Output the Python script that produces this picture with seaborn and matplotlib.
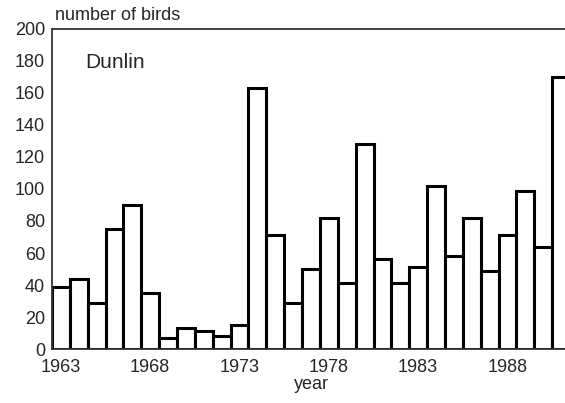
import numpy as np
import pandas as pd
import matplotlib
matplotlib.use("Agg")
import matplotlib.pyplot as plt
import seaborn as sns

# Dunlin counts per year
years = list(range(1963, 1992))
birds = [39, 44, 29, 75, 90, 35, 7, 13, 11, 8, 15, 163, 71, 29, 50,
         82, 41, 128, 56, 41, 51, 102, 58, 82, 49, 71, 99, 64, 170]
year_labels = ["1963", "1968", "1973", "1978", "1983", "1988"]
y_ticks = list(range(0, 201, 20))

df = pd.DataFrame({"year": years, "birds": birds})

sns.set_style("white")
plt.rcParams["font.family"] = ["Liberation Sans", "DejaVu Sans"]

fig = plt.figure(figsize=(5.65, 4.03), dpi=100)
# axes run slightly past the right edge, as in the cropped original
ax = fig.add_axes([52 / 565, 1 - 349 / 403, 518 / 565, 320 / 403])

sns.barplot(data=df, x="year", y="birds", color="white", saturation=1,
            edgecolor="black", linewidth=2.2, width=1.0, ax=ax)

ax.set_xlim(-0.5, len(years) - 0.5)
ax.set_ylim(0, 200)
ax.set_yticks(y_ticks)
ax.set_yticklabels([str(v) for v in y_ticks], fontsize=13)
ax.set_xticks(range(len(years)))
ax.set_xticklabels([str(y) if str(y) in year_labels else "" for y in years],
                   fontsize=13)
ax.tick_params(axis="both", direction="out", length=3, width=1,
               color="#555555", pad=2)
ax.tick_params(axis="x", length=2, pad=5)

for side in ["left", "bottom", "top"]:
    ax.spines[side].set_visible(True)
    ax.spines[side].set_color("#333333")
    ax.spines[side].set_linewidth(1.3)
ax.spines["right"].set_visible(False)

ax.set_xlabel("year", fontsize=13, labelpad=0)
ax.set_ylabel("")
fig.text(55 / 565, 1 - 15 / 403, "number of birds", fontsize=13,
         ha="left", va="center")
ax.text(0.064, 0.895, "Dunlin", transform=ax.transAxes, fontsize=15,
        ha="left", va="center")

fig.savefig("out.png", dpi=100)
